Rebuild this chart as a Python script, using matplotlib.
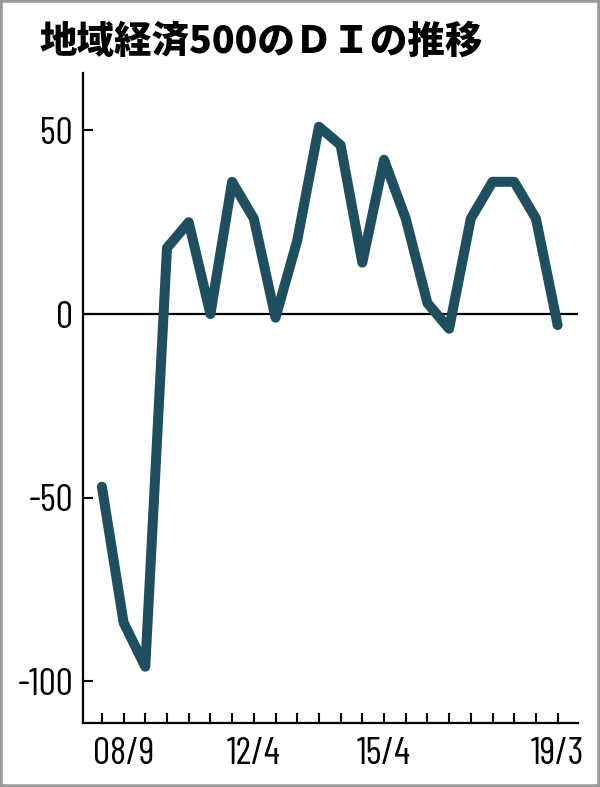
import matplotlib
matplotlib.use('Agg')
import matplotlib.pyplot as plt
from matplotlib.patches import Rectangle

# semi-annual survey, 22 readings
di_values = [-47, -84, -96, 18, 25, 0, 36, 26, -1, 20, 51, 46, 14, 42,
             26, 3, -4, 26, 36, 36, 26, -3]
tick_labels = {1: '08/9', 7: '12/4', 13: '15/4', 21: '19/3'}
y_ticks = [50, 0, -50, -100]

title = '地域経済500のＤＩの推移'
tick_family = ['Barlow Condensed', 'DejaVu Sans']

fig = plt.figure(figsize=(6.0, 7.87), dpi=100)
ax = fig.add_axes([0.138, 0.081, 0.825, 0.8266])

x = list(range(len(di_values)))
ax.plot(x, di_values, color='#1f4f5e', lw=7.2, solid_joinstyle='round',
        solid_capstyle='round', zorder=3)
ax.axhline(0, color='black', lw=1.6, zorder=2)

ax.set_xlim(-0.88, 21.93)
ax.set_ylim(-111.4, 65.7)

ax.set_xticks(x)
ax.set_xticklabels([tick_labels.get(i, '') for i in x])
ax.set_yticks(y_ticks)
ax.set_yticklabels([str(v) for v in y_ticks])
ax.tick_params(direction='in', length=7, width=1.5, colors='black')
ax.tick_params(axis='y', pad=7)
ax.tick_params(axis='x', pad=10)
for lab in ax.get_xticklabels() + ax.get_yticklabels():
    lab.set_fontfamily(tick_family)
    lab.set_fontsize(27.5)

for side in ['top', 'right']:
    ax.spines[side].set_visible(False)
for side in ['left', 'bottom']:
    ax.spines[side].set_linewidth(1.6)

fig.text(0.436, 0.947, title, ha='center', va='center', fontsize=27,
         fontweight='black', family=['Noto Sans CJK JP', 'DejaVu Sans'])

fig.patches.append(Rectangle((0, 0), 1, 1, transform=fig.transFigure,
                             fill=False, edgecolor='#9a9a9a', lw=4))

fig.savefig('out.png', dpi=100)
